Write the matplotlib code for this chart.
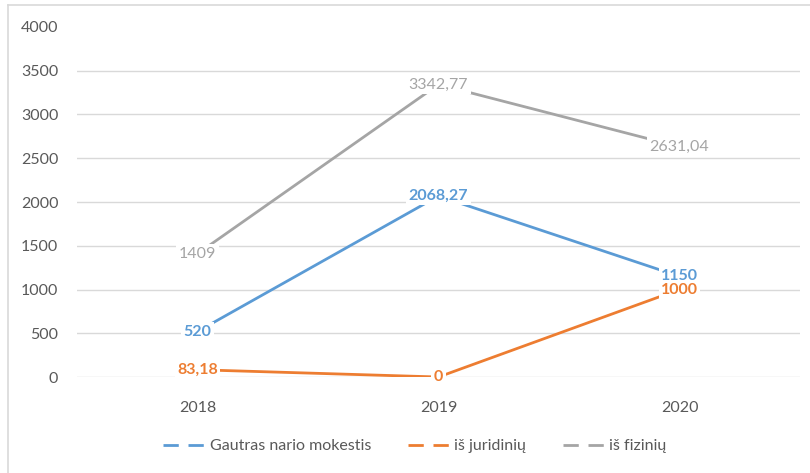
import matplotlib
matplotlib.use("Agg")
import matplotlib.pyplot as plt
from matplotlib.lines import Line2D

plt.rcParams['font.family'] = ['Lato', 'DejaVu Sans']

years = ["2018", "2019", "2020"]
gautras = [520, 2068.27, 1150]
juridiniu = [83.18, 0, 1000]
fiziniu = [1409, 3342.77, 2631.04]
series_names = ["Gautras nario mokestis", "iš juridinių", "iš fizinių"]
yticks = [0, 500, 1000, 1500, 2000, 2500, 3000, 3500, 4000]

colors = ["#5B9BD5", "#ED7D31", "#A5A5A5"]
label_colors = ["#5B9BD5", "#ED7D31", "#A5A5A5"]
weights = ["bold", "bold", "normal"]

def fmt(v):
    if float(v).is_integer():
        return str(int(v))
    return f"{v:.2f}".replace(".", ",")

fig = plt.figure(figsize=(8.1, 4.73), dpi=100)
ax = fig.add_axes([77/810, (473-377)/473, (800-77)/810, 350/473])
ax.set_xlim(-0.5, 2.5)
ax.set_ylim(0, 4000)
x = list(range(len(years)))

for yt in yticks[:-1]:
    ax.axhline(yt, color="#D9D9D9", lw=1.0, zorder=1)

all_series = [gautras, juridiniu, fiziniu]
for vals, c, lc, w in zip(all_series, colors, label_colors, weights):
    ax.plot(x, vals, color=c, lw=2.0, zorder=2, solid_capstyle="butt")
    for xi, v in zip(x, vals):
        ax.text(xi, v, fmt(v), ha="center", va="center", color=lc, fontsize=11.5,
                fontweight=w, zorder=5,
                bbox=dict(boxstyle="square,pad=0.15", fc="white", ec="none"))

ax.set_yticks(yticks)
ax.set_yticklabels([str(t) for t in yticks])
ax.set_xticks(x)
ax.set_xticklabels(years)
ax.tick_params(axis="both", length=0, colors="#595959", labelsize=11.5)
ax.tick_params(axis="y", pad=13.5)
ax.tick_params(axis="x", pad=17)
for s in ax.spines.values():
    s.set_visible(False)

handles = [Line2D([0], [0], color=c, lw=2.0, dashes=(5.5, 3.5)) for c in colors]
leg = fig.legend(handles, series_names, loc="center", bbox_to_anchor=(0.512, (473-446)/473),
                 ncol=3, frameon=False, fontsize=11.5, handlelength=2.6,
                 handletextpad=0.3, columnspacing=2.3, labelcolor="#595959")

# outer chart border (left and top visible)
fig.add_artist(Line2D([8/810, 8/810], [0, 1-5/473], color="#D9D9D9", lw=1.2))
fig.add_artist(Line2D([8/810, 1], [1-5/473, 1-5/473], color="#D9D9D9", lw=1.2))

fig.savefig("out.png", dpi=100)
